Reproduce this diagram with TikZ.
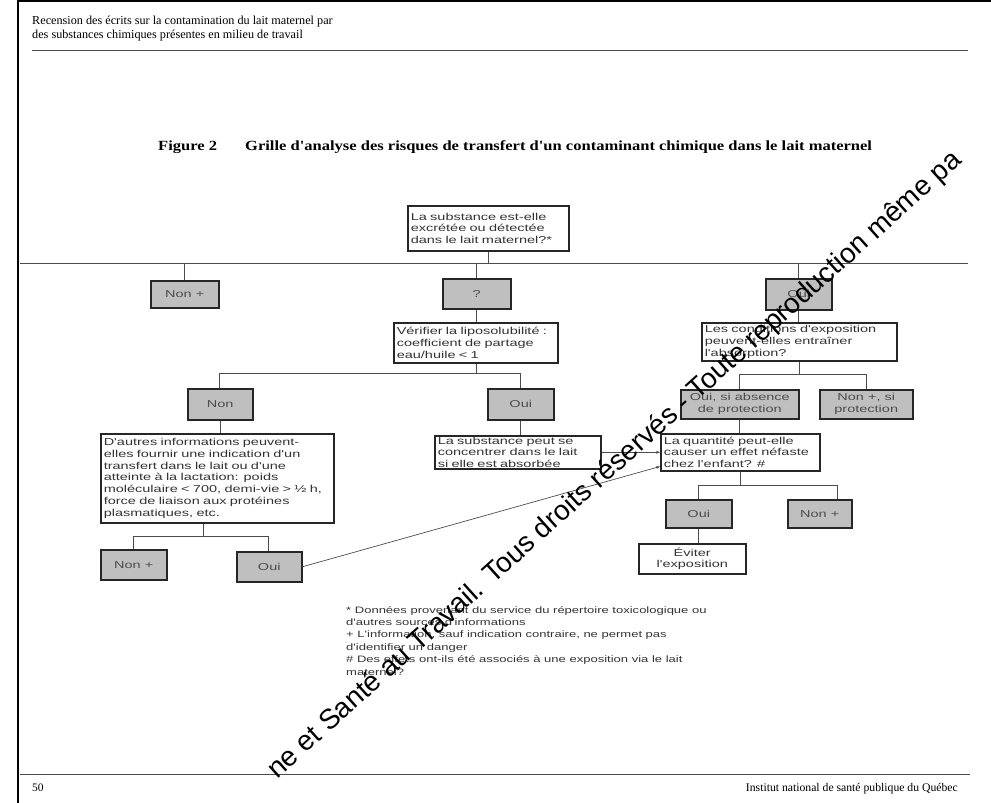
\documentclass[tikz,border=0pt]{standalone}
\usepackage{fontspec}
\setmainfont{Liberation Serif}
\newfontfamily\boxfont[FakeStretch=1.45]{Liberation Sans}
\newfontfamily\notefont[FakeStretch=1.4]{Liberation Sans}
\newfontfamily\markfont{Liberation Sans}
\newfontfamily\titlefont[FakeStretch=1.18]{Liberation Serif}
\usetikzlibrary{arrows.meta}

\tikzset{
  question/.style={draw=black!85, line width=1.5pt, fill=white, anchor=north west,
    inner xsep=3pt, inner ysep=1pt, align=left, text=black!80,
    font=\boxfont\fontsize{10}{11.8}\selectfont},
  answer/.style={draw=black!85, line width=1.5pt, fill=black!25, anchor=north west,
    inner sep=1pt, align=center, text=black!70,
    font=\boxfont\fontsize{10}{11.8}\selectfont},
  link/.style={draw=black!70, line width=0.7pt},
}

\begin{document}
\begin{tikzpicture}[x=1pt, y=-1pt, >={Stealth[length=4pt,width=3pt]}]
  \useasboundingbox (0,0) rectangle (991,803);
  % page frame, running head and foot
  \draw [line width=1.2pt] (18,803) -- (18,1) -- (991,1);
  \node [anchor=base west, inner sep=0pt, font=\fontsize{12.2}{13}\selectfont] (head1) at (32,24) {Recension des écrits sur la contamination du lait maternel par};
  \node [anchor=base west, inner sep=0pt, font=\fontsize{12.2}{13}\selectfont] (head2) at (32,38) {des substances chimiques présentes en milieu de travail};
  \draw [black!70, line width=1pt] (32,50) -- (968,50);
  \draw [black!70, line width=1pt] (20,774) -- (970,774);
  \node [anchor=base west, inner sep=0pt, font=\fontsize{11.5}{13}\selectfont] (pageno) at (32,791) {50};
  \node [anchor=base east, inner sep=0pt, font=\fontsize{11.7}{13}\selectfont] (inst) at (958,791) {Institut national de santé publique du Québec};
  % title
  \node [anchor=base west, inner sep=0pt, font=\titlefont\bfseries\fontsize{14}{16}\selectfont] (fig) at (158,150) {Figure 2};
  \node [anchor=base west, inner sep=0pt, font=\titlefont\bfseries\fontsize{14}{16}\selectfont] (title) at (245,150) {Grille d'analyse des risques de transfert d'un contaminant chimique dans le lait maternel};

  % boxes
  \node [question, text width=155pt, minimum height=45pt] (substance) at (407,205) {La substance est-elle\\excrétée ou détectée\\dans le lait maternel?*};
  \node [answer, minimum width=68pt, minimum height=27pt] (nonA) at (150,280) {Non +};
  \node [answer, minimum width=68pt, minimum height=30pt] (unk) at (442,278) {?};
  \node [answer, minimum width=66pt, minimum height=31pt] (ouiA) at (765,278) {Oui};
  \node [question, text width=158pt, minimum height=40pt] (lipo) at (393,322) {Vérifier la liposolubilité :\\coefficient de partage\\eau/huile < 1};
  \node [question, text width=189pt, minimum height=38pt] (cond) at (701,322) {Les conditions d'exposition\\peuvent-elles entraîner\\l'absorption?};
  \node [answer, minimum width=65pt, minimum height=31pt] (non) at (187,388) {Non};
  \node [answer, minimum width=66pt, minimum height=31pt] (oui) at (487,388) {Oui};
  \node [question, text width=227pt, minimum height=89pt] (autres) at (100,433) {D'autres informations peuvent-\\elles fournir une indication d'un\\transfert dans le lait ou d'une\\atteinte à la lactation: poids\\moléculaire < 700, demi-vie > ½ h,\\force de liaison aux protéines\\plasmatiques, etc.};
  \node [question, text width=160pt, minimum height=33pt] (conc) at (434,435) {La substance peut se\\concentrer dans le lait\\si elle est absorbée};
  \node [answer, minimum width=118pt, minimum height=29pt] (ouisi) at (680,389) {Oui, si absence\\de protection};
  \node [answer, minimum width=93pt, minimum height=29pt] (nonsi) at (819,389) {Non +, si\\protection};
  \node [question, text width=153pt, minimum height=37pt] (qte) at (660,433) {La quantité peut-elle\\causer un effet néfaste\\chez l'enfant? \#};
  \node [answer, minimum width=66pt, minimum height=28pt] (ouiB) at (665,499) {Oui};
  \node [answer, minimum width=64pt, minimum height=28pt] (nonB) at (787,499) {Non +};
  \node [question, align=center, text width=101pt, minimum height=30pt] (evit) at (638,543) {Éviter\\l'exposition};
  \node [answer, minimum width=66pt, minimum height=30pt] (nonC) at (100,549) {Non +};
  \node [answer, minimum width=65pt, minimum height=30pt] (ouiC) at (236,551) {Oui};

  % branch lines
  \coordinate (bus1l) at (20,263);
  \coordinate (bus1r) at (968,263);
  \draw [link] (bus1l) -- (bus1r);
  \draw [link] (substance.south) -- (substance.south |- bus1l);
  \draw [link] (nonA.north |- bus1l) -- (nonA.north);
  \draw [link] (unk.north |- bus1l) -- (unk.north);
  \draw [link] (ouiA.north |- bus1l) -- (ouiA.north);
  \draw [link] (unk.south) -- (unk.south |- lipo.north);
  \draw [link] (ouiA.south) -- (ouiA.south |- cond.north);

  \coordinate (bus2l) at (219,373);
  \coordinate (bus2r) at (520,373);
  \draw [link] (bus2l) -- (bus2r);
  \draw [link] (unk.south |- lipo.south) -- (unk.south |- bus2l);
  \draw [link] (bus2l) -- (bus2l |- non.north);
  \draw [link] (bus2r) -- (bus2r |- oui.north);
  \draw [link] (non.south) -- (non.south |- autres.north);
  \draw [link] (oui.south) -- (oui.south |- conc.north);

  \coordinate (bus3l) at (739,374);
  \coordinate (bus3r) at (866,374);
  \draw [link] (bus3l) -- (bus3r);
  \draw [link] (cond.south) -- (cond.south |- bus3l);
  \draw [link] (bus3l) -- (bus3l |- ouisi.north);
  \draw [link] (bus3r) -- (bus3r |- nonsi.north);
  \draw [link] (ouisi.south) -- (ouisi.south |- qte.north);

  \coordinate (bus4m) at (203,536);
  \coordinate (bus4l) at (133,536);
  \coordinate (bus4r) at (268,536);
  \draw [link] (bus4l) -- (bus4r);
  \draw [link] (bus4m |- autres.south) -- (bus4m);
  \draw [link] (bus4l) -- (bus4l |- nonC.north);
  \draw [link] (bus4r) -- (bus4r |- ouiC.north);

  \coordinate (bus5l) at (698,485);
  \coordinate (bus5r) at (837,485);
  \draw [link] (bus5l) -- (bus5r);
  \draw [link] (qte.south) -- (qte.south |- bus5l);
  \draw [link] (bus5l) -- (bus5l |- ouiB.north);
  \draw [link] (bus5r) -- (bus5r |- nonB.north);
  \draw [link] (ouiB.south) -- (ouiB.south |- evit.north);

  \draw [link, ->] (conc.east) -- (conc.east -| qte.west);
  \draw [link, ->] (ouiC.east) -- ([yshift=5pt]qte.south west);

  % notes
  \node [anchor=north west, align=left, inner sep=0pt, text=black!80, font=\notefont\fontsize{9.3}{12.4}\selectfont] (notes) at (346,606) {* Données provenant du service du répertoire toxicologique ou\\d'autres sources d'informations\\+ L'information, sauf indication contraire, ne permet pas\\d'identifier un danger\\\# Des effets ont-ils été associés à une exposition via le lait\\maternel?};

  % watermark
  \node [anchor=base east, inner sep=0pt, rotate=42, font=\markfont\fontsize{28}{28}\selectfont] (mark) at (963,162) {ne et Santé au Travail. Tous droits réservés - Toute reproduction même pa};
\end{tikzpicture}
\end{document}
